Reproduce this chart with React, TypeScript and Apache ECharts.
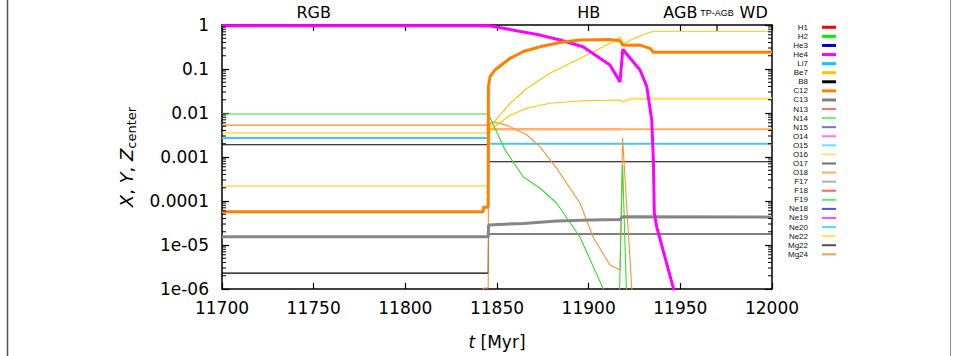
import React, { useEffect, useRef } from 'react';
import * as echarts from 'echarts';

// ---------- axes ----------
const X_MIN = 11700;
const X_MAX = 12000;
const X_INTERVAL = 50;
const Y_MIN = 1e-6;
const Y_MAX = 1;
const Y_TICK_LABELS = ['1e-06', '1e-05', '0.0001', '0.001', '0.01', '0.1', '1'];
const MINOR_MULTIPLIERS = [2, 3, 4, 5, 6, 7, 8, 9];
const DECADES = [-6, -5, -4, -3, -2, -1];

// top (phase) axis labels
const PHASE_TICK_LABELS: Record<number, string> = { 11750: 'RGB', 11900: 'HB', 11950: 'AGB' };
const TP_AGB_T = 11970;
const WD_T = 11990;

// ---------- legend ----------
const SPECIES = ['H1', 'H2', 'He3', 'He4', 'Li7', 'Be7', 'B8', 'C12', 'C13', 'N13', 'N14', 'N15', 'O14',
  'O15', 'O16', 'O17', 'O18', 'F17', 'F18', 'F19', 'Ne18', 'Ne19', 'Ne20', 'Ne22', 'Mg22', 'Mg24'];
const SPECIES_COLORS = ['#ff0000', '#00ee00', '#0000cc', '#ff00ff', '#00ccff', '#ffc400', '#000000', '#ff8000',
  '#808080', '#ff7070', '#70f070', '#7070ee', '#ff70ff', '#70ddff', '#ffe080', '#707070', '#ffa860', '#b0b0b0',
  '#ff6060', '#60ee60', '#5050ee', '#ff50ff', '#50ddff', '#ffe060', '#505050', '#ff9a50'];
const SPECIES_WIDTHS = [3, 3, 3, 3, 3, 3, 3, 3, 3, 2, 2, 2, 2, 2, 2, 2, 2, 2, 2, 2, 2, 2, 2, 2, 2, 2];

// ---------- data: [t (Myr), mass fraction] ----------
const he4: [number, number][] = [[11700, 0.96], [11845.4, 0.96], [11850.5, 0.887], [11873.5, 0.59],
  [11884.4, 0.456], [11896.9, 0.32], [11911.6, 0.123], [11917.1, 0.051], [11918.6, 0.28], [11928, 0.095],
  [11931.7, 0.04], [11934.4, 0.0069], [11935.3, 8.5e-4], [11935.8, 5.4e-5], [11937.1, 2.6e-5],
  [11946.2, 1.05e-6], [11948, 5e-7]];

const c12: [number, number][] = [[11700, 5.7e-5], [11842.5, 5.7e-5], [11842.6, 7.2e-5], [11845.2, 7.2e-5],
  [11845.3, 0.04], [11846.2, 0.067], [11848.9, 0.095], [11857.1, 0.175], [11864.4, 0.25], [11873.5, 0.32],
  [11884.4, 0.4], [11895.3, 0.456], [11911.6, 0.47], [11917.1, 0.44], [11918.5, 0.35], [11922.6, 0.345],
  [11928, 0.35], [11933.5, 0.295], [11935.3, 0.24], [12000, 0.24]];

const c13: [number, number][] = [[11700, 1.55e-5], [11845.2, 1.55e-5], [11845.4, 2.85e-5], [11864.4, 3.1e-5],
  [11882.6, 3.5e-5], [11900.8, 3.7e-5], [11917.1, 3.8e-5], [11918.5, 4.4e-5], [12000, 4.3e-5]];

const n14: [number, number][] = [[11700, 0.0095], [11845.3, 0.0095], [11854.4, 0.00145], [11864.4, 3.5e-4],
  [11873.5, 1.95e-4], [11882.6, 8.9e-5], [11895.3, 1.5e-5], [11908, 1e-6], [11909, 5e-7], [11916.7, 5e-7],
  [11918.5, 6.6e-4], [11920.8, 5e-7], [12000, 5e-7]];

const o16: [number, number][] = [[11700, 0.0035], [11845.2, 0.0035], [11846.2, 0.0049], [11857.1, 0.0166],
  [11866.2, 0.036], [11878.9, 0.08], [11897.1, 0.19], [11913.5, 0.42], [11917.1, 0.53], [11918.9, 0.38],
  [11925, 0.5], [11930, 0.61], [11935.3, 0.72], [12000, 0.72]];

const ne22Early: [number, number][] = [[11700, 2.2e-4], [11845.2, 2.2e-4], [11846.2, 0.0041], [11857.1, 0.0089],
  [11866.2, 0.0128], [11878.9, 0.0166], [11897.1, 0.019], [11917.1, 0.0197], [11918.5, 0.0178]];
const ne22Late: [number, number][] = [[11918.5, 0.0178], [11922.6, 0.021], [12000, 0.021]];

const mg24: [number, number][] = [[11700, 0.0053], [11845.2, 0.0053], [11845.4, 0.0043], [12000, 0.0043]];
const mg24Mid: [number, number][] = [[11845.4, 0.0043], [11918, 0.0043]];

const o18: [number, number][] = [[11700, 3e-7], [11842.4, 3e-7], [11842.5, 1.05e-6], [11845.2, 1.05e-6],
  [11845.4, 0.005], [11847.1, 0.0063], [11855.3, 0.0053], [11866.2, 0.0032], [11873.5, 0.0017],
  [11882.6, 5.5e-4], [11895.3, 8.9e-5], [11902.5, 1.5e-5], [11911.6, 3.5e-6], [11917.1, 2.7e-6],
  [11918.5, 0.0027], [11923.5, 1.05e-6], [11925, 4e-7], [12000, 4e-7]];

const o15: [number, number][] = [[11700, 0.0027], [11845.2, 0.0027], [11845.4, 0.002], [12000, 0.002]];

const mg22: [number, number][] = [[11700, 0.0019], [11845.2, 0.0019], [11845.4, 7.8e-4], [12000, 7.8e-4]];

const b8: [number, number][] = [[11700, 2.3e-6], [11845.2, 2.3e-6], [11845.4, 1.78e-5], [12000, 1.78e-5]];

const FONT = 'DejaVu Sans';

export default function App() {
  const ref = useRef<HTMLDivElement>(null);

  useEffect(() => {
    if (!ref.current) return;
    const chart = echarts.init(ref.current, undefined, { renderer: 'svg' });

    const line = (name: string, data: [number, number][], color: string, width: number, z = 2) => ({
      name, type: 'line', data, showSymbol: false, symbol: 'none', z,
      lineStyle: { color, width }, itemStyle: { color }, clip: true, animation: false,
    });

    const minorData: [number, number][] = [];
    DECADES.forEach((d) => MINOR_MULTIPLIERS.forEach((m) => minorData.push([X_MIN, m * Math.pow(10, d)])));

    const axisLineStyle = { color: '#000', width: 1.5 };

    chart.setOption({
      animation: false,
      grid: { left: 222, right: 187, top: 25, bottom: 67 },
      xAxis: [
        {
          type: 'value', min: X_MIN, max: X_MAX, interval: X_INTERVAL, position: 'bottom',
          axisLine: { lineStyle: axisLineStyle },
          axisTick: { inside: true, length: 6, lineStyle: { color: '#000', width: 1.2 } },
          axisLabel: { color: '#000', fontFamily: FONT, fontSize: 17, margin: 10, formatter: (v: number) => String(v) },
          splitLine: { show: false },
        },
        {
          type: 'value', min: X_MIN, max: X_MAX, interval: X_INTERVAL, position: 'top',
          axisLine: { lineStyle: axisLineStyle },
          axisTick: { inside: true, length: 6, lineStyle: { color: '#000', width: 1.2 } },
          axisLabel: {
            color: '#000', fontFamily: FONT, fontSize: 16, margin: 5,
            formatter: (v: number) => PHASE_TICK_LABELS[Math.round(v)] || '',
          },
          splitLine: { show: false },
        },
      ],
      yAxis: [
        {
          type: 'log', logBase: 10, min: Y_MIN, max: Y_MAX, position: 'left',
          axisLine: { show: true, lineStyle: axisLineStyle },
          axisTick: { show: true, inside: true, length: 7, lineStyle: { color: '#000', width: 1.2 } },
          axisLabel: {
            color: '#000', fontFamily: FONT, fontSize: 17, margin: 13,
            formatter: (v: number) => Y_TICK_LABELS[Math.round(Math.log10(v)) + 6] ?? '',
          },
          splitLine: { show: false },
        },
        {
          type: 'log', logBase: 10, min: Y_MIN, max: Y_MAX, position: 'right',
          axisLine: { show: true, lineStyle: axisLineStyle },
          axisTick: { show: true, inside: true, length: 7, lineStyle: { color: '#000', width: 1.2 } },
          axisLabel: { show: false },
          splitLine: { show: false },
        },
      ],
      series: [
        {
          type: 'custom', name: 'minorTicks', data: minorData, clip: false, z: 10,
          renderItem: (_p: any, api: any) => {
            const v = api.value(1);
            const l = api.coord([X_MIN, v]);
            const r = api.coord([X_MAX, v]);
            return {
              type: 'group', children: [
                { type: 'line', shape: { x1: l[0], y1: l[1], x2: l[0] + 4, y2: l[1] }, style: { stroke: '#000', lineWidth: 1 } },
                { type: 'line', shape: { x1: r[0] - 4, y1: r[1], x2: r[0], y2: r[1] }, style: { stroke: '#000', lineWidth: 1 } },
              ],
            };
          },
        },
        line('B8', b8, '#000000', 1.1),
        line('Mg22', mg22, '#000000', 1.1),
        line('O15', o15, '#44c8f0', 1.8),
        line('Mg24', mg24, '#ff8a20', 1.2),
        line('Mg24b', mg24Mid, '#ffb070', 2.5),
        line('O18', o18, '#ff9030', 1.1),
        line('Ne22', ne22Early, '#ffc400', 1.1),
        line('Ne22b', ne22Late, '#ffe070', 2.5),
        line('O16', o16, '#ffc400', 1.1),
        line('N14', n14, '#33dd33', 1.1),
        line('C13', c13, '#868686', 3),
        line('He4', he4, '#ff00ff', 3),
        line('C12', c12, '#ff8000', 3),
      ],
    });

    const graphics: any[] = [];
    // figure frame lines
    graphics.push({ type: 'line', shape: { x1: 7.5, y1: 0, x2: 7.5, y2: 356 }, style: { stroke: '#555', lineWidth: 1.5 } });
    graphics.push({ type: 'line', shape: { x1: 950.5, y1: 0, x2: 950.5, y2: 356 }, style: { stroke: '#888', lineWidth: 1 } });

    // TP-AGB tick and labels
    const tpX = chart.convertToPixel({ xAxisIndex: 0 }, TP_AGB_T) as number;
    const wdX = chart.convertToPixel({ xAxisIndex: 0 }, WD_T) as number;
    graphics.push({ type: 'line', shape: { x1: tpX, y1: 25, x2: tpX, y2: 31 }, style: { stroke: '#000', lineWidth: 1.2 } });
    graphics.push({ type: 'text', x: tpX, y: 13, style: { text: 'TP-AGB', fontFamily: 'Liberation Sans', fontSize: 9, fill: '#000', align: 'center', verticalAlign: 'middle' } });
    graphics.push({ type: 'text', x: wdX, y: 12, style: { text: 'WD', fontFamily: FONT, fontSize: 16, fill: '#000', align: 'center', verticalAlign: 'middle' } });

    // axis titles
    graphics.push({
      type: 'text', x: 497, y: 342,
      style: {
        text: '{i|t} [Myr]', fontFamily: FONT, fontSize: 17, fill: '#000', align: 'center', verticalAlign: 'middle',
        rich: { i: { fontStyle: 'italic', fontFamily: FONT, fontSize: 17 } },
      },
    });
    graphics.push({
      type: 'text', x: 126, y: 157, rotation: Math.PI / 2,
      style: {
        text: '{i|X}, {i|Y}, {i|Z}{s|center}', fontFamily: FONT, fontSize: 18, fill: '#000', align: 'center', verticalAlign: 'middle',
        rich: {
          i: { fontStyle: 'italic', fontFamily: FONT, fontSize: 18 },
          s: { fontFamily: FONT, fontSize: 13, padding: [10, 0, 0, 0] },
        },
      },
    });

    // legend
    SPECIES.forEach((name, i) => {
      const y = 27.3 + i * 9.08;
      graphics.push({ type: 'text', x: 808, y, style: { text: name, fontFamily: 'Liberation Sans', fontSize: 8, fill: '#111', align: 'right', verticalAlign: 'middle' } });
      graphics.push({ type: 'line', shape: { x1: 822, y1: y, x2: 836, y2: y }, style: { stroke: SPECIES_COLORS[i], lineWidth: SPECIES_WIDTHS[i] } });
    });

    chart.setOption({ graphic: graphics });

    return () => chart.dispose();
  }, []);

  return <div ref={ref} style={{ position: 'fixed', left: 0, top: 0, width: 959, height: 356, background: '#fff' }} />;
}
